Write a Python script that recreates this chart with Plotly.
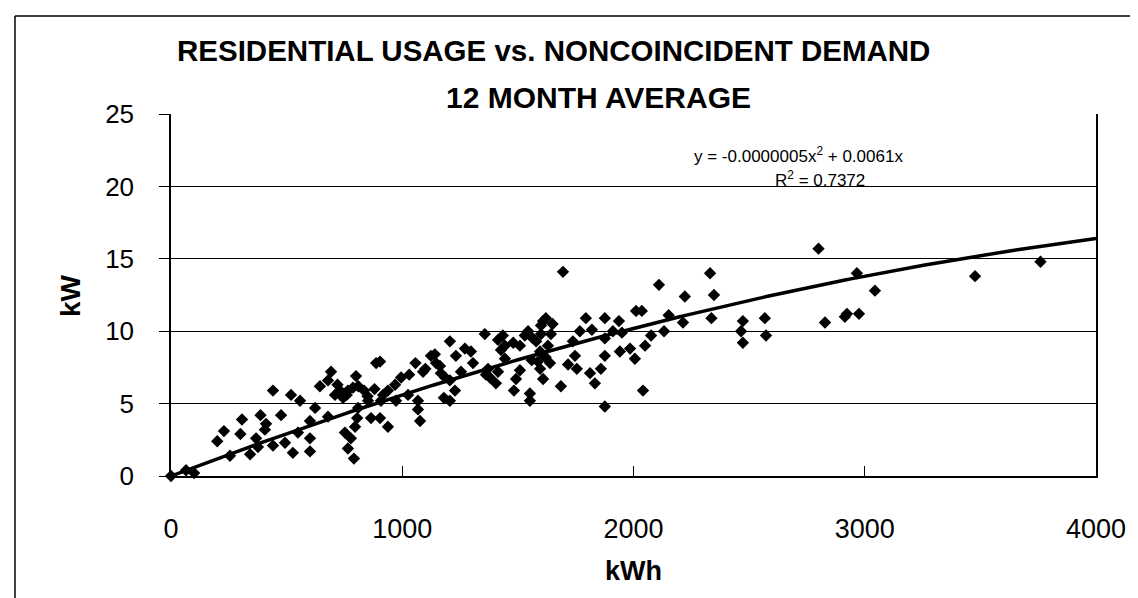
import numpy as np
import plotly.graph_objects as go

# ---- data ----
kwh = [0, 65, 100, 200, 229, 255, 300, 307, 342, 368, 376, 387, 406, 411, 441, 441, 476, 493,
       519, 527, 549, 558, 601, 601, 601, 623, 644, 679, 692, 679, 709, 720, 731, 744, 752, 760, 765,
       787, 765, 778, 791, 796, 800,
       809, 805, 810, 835, 850, 852, 865, 880, 887, 904, 904, 917, 908, 938, 938, 969, 973, 995,
       1025, 1030, 1057, 1068, 1068, 1077, 1090, 1100, 1124, 1141, 1146, 1163, 1167, 1185, 1180, 1206,
       1206, 1206, 1228, 1232, 1254, 1271, 1297, 1306,
       1357, 1362, 1371, 1379, 1405, 1414, 1414, 1427, 1435, 1444, 1444, 1480, 1483, 1492, 1509, 1509,
       1530, 1544, 1552, 1552, 1560, 1565, 1579, 1587, 1596, 1596, 1600, 1600, 1609, 1620, 1621, 1609,
       1630, 1639, 1643, 1650, 1686, 1695,
       1717, 1738, 1747, 1755, 1768, 1794, 1812, 1820, 1833, 1859, 1876, 1876, 1876, 1876,
       1911, 1937, 1941, 1950, 1985, 2006, 2011, 2036, 2041, 2050, 2076,
       2110, 2132, 2152, 2214, 2222, 2331, 2348, 2337, 2465, 2473, 2473, 2568, 2573,
       2800, 2828, 2914, 2923, 2966, 2975, 3044, 3477, 3760]
kw = [0.0, 0.4, 0.2, 2.4, 3.1, 1.4, 2.9, 3.9, 1.5, 2.6, 2.0, 4.2, 3.2, 3.6, 5.9, 2.1, 4.2, 2.3,
      5.6, 1.6, 3.0, 5.2, 3.8, 2.6, 1.7, 4.7, 6.2, 6.6, 7.2, 4.1, 5.6, 6.3, 5.9, 5.4, 3.0, 5.6, 5.9,
      6.1, 1.9, 2.6, 1.2, 3.4, 6.9,
      4.7, 4.0, 6.2, 5.9, 5.5, 5.2, 4.0, 6.0, 7.8, 7.9, 4.0, 5.6, 5.2, 3.4, 5.9, 6.3, 5.2, 6.8,
      5.6, 7.0, 7.8, 5.2, 4.6, 3.8, 7.2, 7.4, 8.3, 8.4, 7.8, 7.6, 7.1, 6.8, 5.4, 5.2,
      9.3, 6.6, 5.9, 8.3, 7.2, 8.8, 8.6, 7.8,
      9.8, 7.0, 7.4, 6.8, 6.4, 9.4, 7.2, 8.7, 9.7, 9.0, 8.1, 9.2, 5.9, 6.7, 7.3, 9.0,
      9.7, 10.0, 5.7, 5.2, 8.0, 9.5, 9.3, 7.9, 7.4, 8.6, 10.4, 9.8, 10.7, 8.2, 10.9, 6.7,
      9.0, 7.8, 9.8, 10.5, 6.2, 14.1,
      7.7, 9.3, 8.3, 7.4, 10.0, 10.9, 7.1, 10.1, 6.4, 7.4, 10.9, 9.5, 8.3, 4.8,
      10.0, 10.7, 8.6, 9.9, 8.8, 8.1, 11.4, 11.4, 5.9, 9.0, 9.7,
      13.2, 10.0, 11.1, 10.6, 12.4, 14.0, 12.5, 10.9, 10.0, 10.7, 9.2, 10.9, 9.7,
      15.7, 10.6, 11.0, 11.2, 14.0, 11.2, 12.8, 13.8, 14.8]

# trendline coefficients shown on the chart
coef_a = -0.0000005
coef_b = 0.0061
x_ticks = [0, 1000, 2000, 3000, 4000]
y_ticks = [0, 5, 10, 15, 20, 25]

title_line1 = "RESIDENTIAL USAGE vs. NONCOINCIDENT DEMAND"
title_line2 = "12 MONTH AVERAGE"
eq_text = "y = -0.0000005x<sup>2</sup> + 0.0061x"
r2_text = "R<sup>2</sup> = 0.7372"

trend_x = np.linspace(0, 4000, 201)
trend_y = coef_a * trend_x ** 2 + coef_b * trend_x

FONT = "Liberation Sans, Arial, sans-serif"

fig = go.Figure()
fig.add_trace(go.Scatter(x=trend_x, y=trend_y, mode="lines",
                         line=dict(color="black", width=3.5), hoverinfo="skip",
                         cliponaxis=False))
fig.add_trace(go.Scatter(x=kwh, y=kw, mode="markers",
                         marker=dict(symbol="diamond", size=9.5, color="black"),
                         cliponaxis=False))

W, H = 1138, 598
L, R, T, B = 163, 1088, 106, 468
pw, ph = R - L, B - T

def px(xp):
    return (xp - L) / pw

def py(yp):
    return (B - yp) / ph

fig.update_layout(
    width=W, height=H,
    margin=dict(l=L, r=W - R, t=T, b=H - B),
    paper_bgcolor="white", plot_bgcolor="white",
    showlegend=False,
    font=dict(family=FONT, color="black"),
    xaxis=dict(range=[0, 4000], tickvals=x_ticks, ticks="inside", ticklen=10,
               tickcolor="black", showline=True, linecolor="black", linewidth=1.5,
               showgrid=False, zeroline=False, tickfont=dict(size=27),
               ticklabelstandoff=28),
    yaxis=dict(range=[0, 25], tickvals=y_ticks, ticks="outside", ticklen=10,
               tickcolor="black", showline=True, linecolor="black", linewidth=1.5,
               mirror=True, showgrid=True, gridcolor="black", gridwidth=1,
               zeroline=False, tickfont=dict(size=26), ticklabelstandoff=20),
)

annotations = [
    dict(text="<b>" + title_line1 + "</b>", x=px(545), y=py(42), font=dict(size=29.5)),
    dict(text="<b>" + title_line2 + "</b>", x=px(590), y=py(90), font=dict(size=30)),
    dict(text="<b>kW</b>", x=px(62), y=py(288), textangle=-90, font=dict(size=28)),
    dict(text="<b>kWh</b>", x=px(625), y=py(563), font=dict(size=27)),
    dict(text=eq_text, x=px(790), y=py(147), font=dict(size=17)),
    dict(text=r2_text, x=px(812), y=py(171), font=dict(size=17)),
]
for a in annotations:
    a.update(xref="paper", yref="paper", showarrow=False, xanchor="center", yanchor="middle")
fig.update_layout(annotations=annotations)

# outer chart frame (left and top edges visible in the crop)
fig.add_shape(type="line", xref="paper", yref="paper", x0=px(7), x1=px(7), y0=py(8), y1=py(600),
              line=dict(color="black", width=1.5))
fig.add_shape(type="line", xref="paper", yref="paper", x0=px(7), x1=px(1140), y0=py(8), y1=py(8),
              line=dict(color="black", width=1.5))

fig.write_html("out.html")
